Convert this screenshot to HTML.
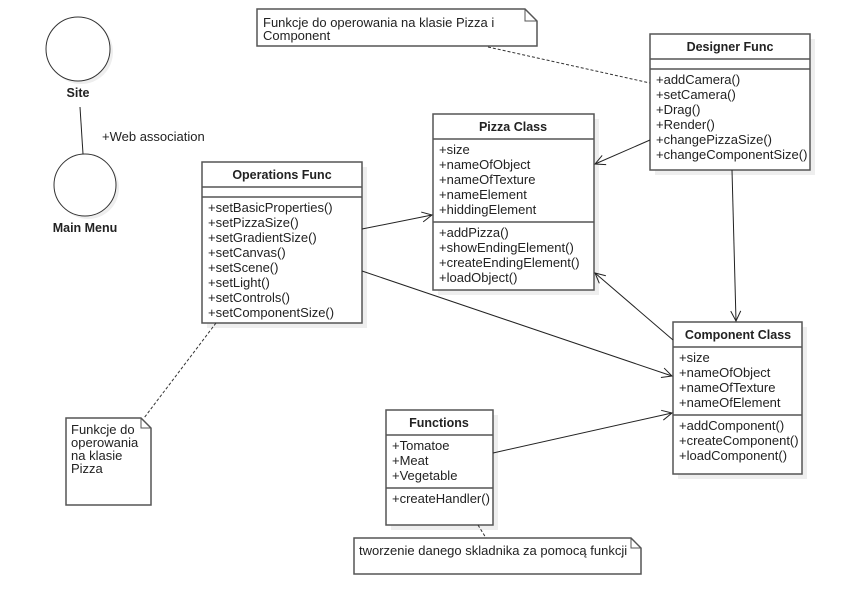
<!DOCTYPE html>
<html><head><meta charset="utf-8"><style>
html,body{margin:0;padding:0;background:#fff}
svg{display:block}
text{font-family:"Liberation Sans",Arial,sans-serif;font-size:13px;fill:#222}
.b{font-weight:bold;text-anchor:middle;font-size:12.5px}
.box{fill:#fff;stroke:#555;stroke-width:1.5}
.sh{fill:#eee}
.ln{stroke:#222;stroke-width:1;fill:none}
.ds{stroke:#333;stroke-width:1;fill:none;stroke-dasharray:3,2}
</style></head><body>
<svg width="850" height="615" viewBox="0 0 850 615">
<defs><marker id="a" markerWidth="12" markerHeight="12" refX="11" refY="6" orient="auto" markerUnits="userSpaceOnUse"><path d="M1,1 L11,6 L1,11" fill="none" stroke="#222" stroke-width="1"/></marker></defs>

<circle cx="81" cy="52" r="32" fill="#eee"/>
<circle cx="78" cy="49" r="32" fill="#fff" stroke="#333"/>
<text x="78" y="97" class="b">Site</text>
<circle cx="88" cy="188" r="31" fill="#eee"/>
<circle cx="85" cy="185" r="31" fill="#fff" stroke="#333"/>
<text x="85" y="232" class="b">Main Menu</text>
<line x1="80" y1="107" x2="83" y2="154" class="ln"/>
<text x="102" y="141">+Web association</text>

<path d="M257,9 L525,9 L537,21 L537,46 L257,46 Z" class="box"/>
<path d="M525,9 L525,21 L537,21" fill="none" stroke="#555"/>
<text x="263" y="27">Funkcje do operowania na klasie Pizza i</text>
<text x="263" y="40">Component</text>
<line x1="488" y1="47" x2="650" y2="83" class="ds"/>

<rect x="655" y="39" width="160" height="136" class="sh"/>
<rect x="650" y="34" width="160" height="136" class="box"/>
<line x1="650" y1="59" x2="810" y2="59" stroke="#555" stroke-width="1.5"/>
<line x1="650" y1="69" x2="810" y2="69" stroke="#555" stroke-width="1.5"/>
<text x="730" y="51" class="b">Designer Func</text>
<text x="656" y="84">+addCamera()</text>
<text x="656" y="99">+setCamera()</text>
<text x="656" y="114">+Drag()</text>
<text x="656" y="129">+Render()</text>
<text x="656" y="144">+changePizzaSize()</text>
<text x="656" y="159">+changeComponentSize()</text>

<rect x="438" y="119" width="161" height="176" class="sh"/>
<rect x="433" y="114" width="161" height="176" class="box"/>
<line x1="433" y1="139" x2="594" y2="139" stroke="#555" stroke-width="1.5"/>
<line x1="433" y1="222" x2="594" y2="222" stroke="#555" stroke-width="1.5"/>
<text x="513" y="131" class="b">Pizza Class</text>
<text x="439" y="154">+size</text>
<text x="439" y="169">+nameOfObject</text>
<text x="439" y="184">+nameOfTexture</text>
<text x="439" y="199">+nameElement</text>
<text x="439" y="214">+hiddingElement</text>
<text x="439" y="237">+addPizza()</text>
<text x="439" y="252">+showEndingElement()</text>
<text x="439" y="267">+createEndingElement()</text>
<text x="439" y="282">+loadObject()</text>

<rect x="207" y="167" width="160" height="161" class="sh"/>
<rect x="202" y="162" width="160" height="161" class="box"/>
<line x1="202" y1="187" x2="362" y2="187" stroke="#555" stroke-width="1.5"/>
<line x1="202" y1="197" x2="362" y2="197" stroke="#555" stroke-width="1.5"/>
<text x="282" y="179" class="b">Operations Func</text>
<text x="208" y="212">+setBasicProperties()</text>
<text x="208" y="227">+setPizzaSize()</text>
<text x="208" y="242">+setGradientSize()</text>
<text x="208" y="257">+setCanvas()</text>
<text x="208" y="272">+setScene()</text>
<text x="208" y="287">+setLight()</text>
<text x="208" y="302">+setControls()</text>
<text x="208" y="317">+setComponentSize()</text>

<rect x="678" y="327" width="129" height="152" class="sh"/>
<rect x="673" y="322" width="129" height="152" class="box"/>
<line x1="673" y1="347" x2="802" y2="347" stroke="#555" stroke-width="1.5"/>
<line x1="673" y1="415" x2="802" y2="415" stroke="#555" stroke-width="1.5"/>
<text x="738" y="339" class="b">Component Class</text>
<text x="679" y="362">+size</text>
<text x="679" y="377">+nameOfObject</text>
<text x="679" y="392">+nameOfTexture</text>
<text x="679" y="407">+nameOfElement</text>
<text x="679" y="430">+addComponent()</text>
<text x="679" y="445">+createComponent()</text>
<text x="679" y="460">+loadComponent()</text>

<rect x="391" y="415" width="107" height="115" class="sh"/>
<rect x="386" y="410" width="107" height="115" class="box"/>
<line x1="386" y1="435" x2="493" y2="435" stroke="#555" stroke-width="1.5"/>
<line x1="386" y1="488" x2="493" y2="488" stroke="#555" stroke-width="1.5"/>
<text x="439" y="427" class="b">Functions</text>
<text x="392" y="450">+Tomatoe</text>
<text x="392" y="465">+Meat</text>
<text x="392" y="480">+Vegetable</text>
<text x="392" y="503">+createHandler()</text>

<path d="M354,538 L631,538 L641,548 L641,574 L354,574 Z" class="box"/>
<path d="M631,538 L631,548 L641,548" fill="none" stroke="#555"/>
<text x="359" y="555">tworzenie danego skladnika za pomocą funkcji</text>
<line x1="478" y1="525" x2="486" y2="538" class="ds"/>

<path d="M66,418 L141,418 L151,428 L151,505 L66,505 Z" class="box"/>
<path d="M141,418 L141,428 L151,428" fill="none" stroke="#555"/>
<text x="71" y="434">Funkcje do</text>
<text x="71" y="447">operowania</text>
<text x="71" y="460">na klasie</text>
<text x="71" y="473">Pizza</text>
<line x1="216" y1="323" x2="144" y2="418" class="ds"/>

<line x1="650" y1="140" x2="595" y2="164" class="ln" marker-end="url(#a)"/>
<line x1="732" y1="170" x2="736" y2="321" class="ln" marker-end="url(#a)"/>
<line x1="673" y1="340" x2="595" y2="273" class="ln" marker-end="url(#a)"/>
<line x1="362" y1="229" x2="432" y2="215" class="ln" marker-end="url(#a)"/>
<line x1="362" y1="271" x2="672" y2="376" class="ln" marker-end="url(#a)"/>
<line x1="493" y1="453" x2="672" y2="413" class="ln" marker-end="url(#a)"/>
</svg>
</body></html>
